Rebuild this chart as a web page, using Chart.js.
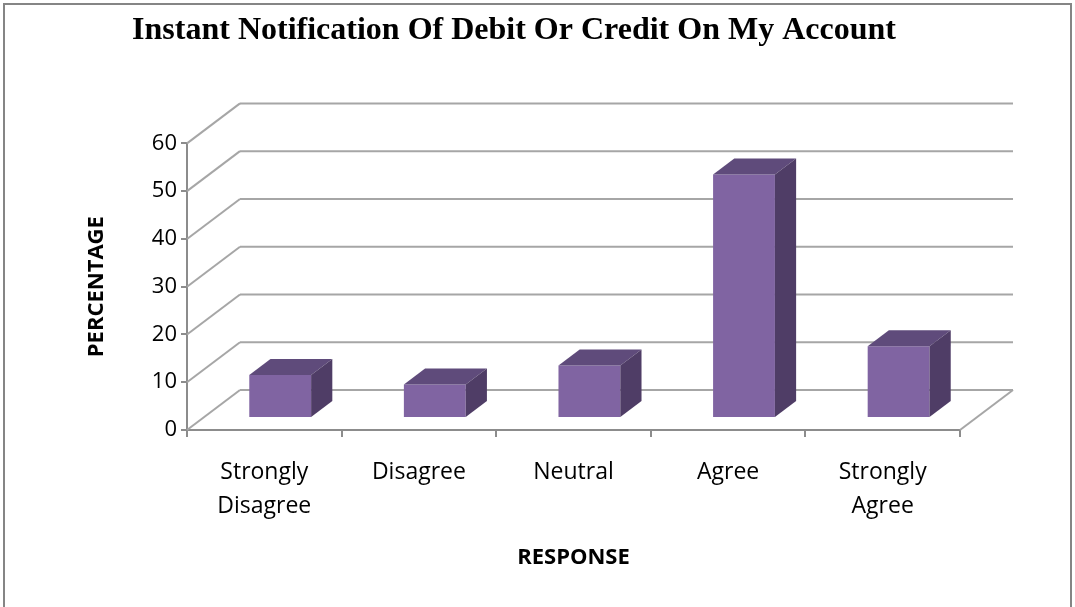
<!DOCTYPE html>
<html>
<head>
<meta charset="utf-8">
<title>Instant Notification Of Debit Or Credit On My Account</title>
<script src="https://cdn.jsdelivr.net/npm/chart.js@4.4.1/dist/chart.umd.min.js"></script>
<style>
  html, body { margin: 0; padding: 0; background: #ffffff; }
  #wrap { width: 1075px; height: 607px; }
</style>
</head>
<body>
<div id="wrap"><canvas id="chart" width="1075" height="607"></canvas></div>
<script>
// Survey responses (percent of respondents)
const categories = [['Strongly', 'Disagree'], 'Disagree', 'Neutral', 'Agree', ['Strongly', 'Agree']];
const percentages = [9, 7, 11, 51, 15];
const yTicks = [0, 10, 20, 30, 40, 50, 60];

const GRID = '#a6a6a6';
const AXIS = '#8c8c8c';
const FACE_FRONT = '#8064a2';
const FACE_TOP = '#5f4b7b';
const FACE_SIDE = '#4f3d66';

// oblique projection of the full floor depth
const DEPTH_X = 53;
const DEPTH_Y = -40;
// bars sit in the middle of the floor: front at 30% depth, 40% deep
const BAR_FRONT = 0.3;
const BAR_DEPTH = 0.4;

function line(ctx, x1, y1, x2, y2) {
  ctx.beginPath();
  ctx.moveTo(x1, y1);
  ctx.lineTo(x2, y2);
  ctx.stroke();
}

function poly(ctx, pts, color) {
  ctx.beginPath();
  ctx.moveTo(pts[0][0], pts[0][1]);
  for (var i = 1; i < pts.length; i++) ctx.lineTo(pts[i][0], pts[i][1]);
  ctx.closePath();
  ctx.fillStyle = color;
  ctx.fill();
}

// white page with the grey chart-area frame
const frame = {
  id: 'frame',
  beforeDraw: function (chart) {
    var ctx = chart.ctx;
    ctx.save();
    ctx.fillStyle = '#ffffff';
    ctx.fillRect(0, 0, chart.width, chart.height);
    ctx.strokeStyle = '#858585';
    ctx.lineWidth = 2;
    ctx.strokeRect(4, 4, chart.width - 8, chart.height + 20);
    ctx.restore();
  },
};

// back wall, side wall and floor of the 3-D box
const walls = {
  id: 'walls',
  beforeDatasetsDraw: function (chart) {
    var ctx = chart.ctx;
    var area = chart.chartArea;
    var y = chart.scales.y;
    ctx.save();
    ctx.strokeStyle = GRID;
    ctx.lineWidth = 2;
    yTicks.forEach(function (v) {
      var py = y.getPixelForValue(v);
      line(ctx, area.left, py, area.left + DEPTH_X, py + DEPTH_Y);
      line(ctx, area.left + DEPTH_X, py + DEPTH_Y, area.right + DEPTH_X, py + DEPTH_Y);
    });
    var base = y.getPixelForValue(0);
    line(ctx, area.right, base, area.right + DEPTH_X, base + DEPTH_Y);
    ctx.restore();
  },
};

// draws each bar element as a box standing on the floor
const boxes = {
  id: 'boxes',
  afterDatasetsDraw: function (chart) {
    var ctx = chart.ctx;
    var meta = chart.getDatasetMeta(0);
    var ox = DEPTH_X * BAR_FRONT;
    var oy = DEPTH_Y * BAR_FRONT;
    var dx = DEPTH_X * BAR_DEPTH;
    var dy = DEPTH_Y * BAR_DEPTH;
    ctx.save();
    meta.data.forEach(function (bar) {
      var l = bar.x - bar.width / 2 + ox;
      var r = bar.x + bar.width / 2 + ox;
      var t = bar.y + oy;
      var b = bar.base + oy;
      poly(ctx, [[l, t], [r, t], [r, b], [l, b]], FACE_FRONT);
      poly(ctx, [[l, t], [l + dx, t + dy], [r + dx, t + dy], [r, t]], FACE_TOP);
      poly(ctx, [[r, t], [r + dx, t + dy], [r + dx, b + dy], [r, b]], FACE_SIDE);
    });
    ctx.restore();
  },
};

new Chart(document.getElementById('chart'), {
  type: 'bar',
  data: {
    labels: categories,
    datasets: [{
      label: 'Percentage',
      data: percentages,
      backgroundColor: 'rgba(0, 0, 0, 0)',
      borderWidth: 0,
      barPercentage: 0.4,
      categoryPercentage: 1.0,
    }],
  },
  options: {
    responsive: false,
    animation: false,
    events: [],
    layout: { padding: { left: 68, right: 115, top: 0, bottom: 0 } },
    plugins: {
      legend: { display: false },
      tooltip: { enabled: false },
      title: {
        display: true,
        text: 'Instant Notification Of Debit Or Credit On My Account',
        color: '#000000',
        font: { family: '"Liberation Serif", "Times New Roman", serif', size: 32, weight: 'bold', lineHeight: 1.2 },
        padding: { top: 12, bottom: 93 },
      },
    },
    scales: {
      x: {
        offset: true,
        grid: { display: true, drawOnChartArea: false, drawTicks: true, tickLength: 7, offset: true, color: AXIS, lineWidth: 2 },
        border: { display: true, color: AXIS, width: 2 },
        ticks: {
          color: '#000000',
          padding: 19,
          maxRotation: 0,
          font: { family: '"Open Sans", sans-serif', size: 23, lineHeight: 1.46 },
        },
        title: {
          display: true,
          text: 'RESPONSE',
          color: '#000000',
          font: { family: '"Open Sans", sans-serif', size: 22, weight: 'bold', lineHeight: 1.2 },
          padding: { top: 0, bottom: 36 },
        },
        afterFit: function (scale) { scale.height = 177; },
      },
      y: {
        min: 0,
        max: 60,
        grid: { display: true, drawOnChartArea: false, drawTicks: true, tickLength: 6, color: AXIS, lineWidth: 2 },
        border: { display: true, color: AXIS, width: 2 },
        ticks: {
          stepSize: 10,
          color: '#000000',
          padding: 4,
          font: { family: '"Open Sans", sans-serif', size: 22 },
        },
        title: {
          display: true,
          text: 'PERCENTAGE',
          color: '#000000',
          font: { family: '"Open Sans", sans-serif', size: 22, weight: 'bold', lineHeight: 1.2 },
          padding: { top: 16, bottom: 0 },
        },
        afterFit: function (scale) { scale.width = 119; },
      },
    },
  },
  plugins: [frame, walls, boxes],
});
</script>
</body>
</html>
